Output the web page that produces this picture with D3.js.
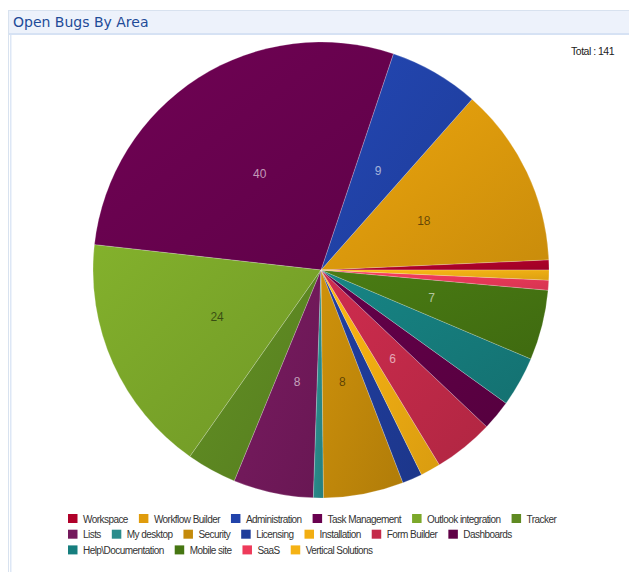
<!DOCTYPE html>
<html>
<head>
<meta charset="utf-8">
<script src="https://cdn.jsdelivr.net/npm/d3@7"></script>
<style>
  body { margin: 0; background: #fff; }
  svg { display: block; }
</style>
</head>
<body>
<svg id="chart"></svg>
<script>
// data, in legend order (the pie runs counter-clockwise from 3 o'clock)
const categories = [
  "Workspace", "Workflow Builder", "Administration", "Task Management",
  "Outlook integration", "Tracker", "Lists", "My desktop", "Security",
  "Licensing", "Installation", "Form Builder", "Dashboards",
  "Help\\Documentation", "Mobile site", "SaaS", "Vertical Solutions"
];
const bugCounts = [1, 18, 9, 40, 24, 5, 8, 1, 8, 2, 2, 6, 3, 5, 7, 1, 1];
const sliceColors = [
  "#b0012a", "#e09c0c", "#2143aa", "#6a0250",
  "#7ca82a", "#5f8a22", "#741a5c", "#2a8c8c", "#c48a0a",
  "#1f3c9a", "#f2ae12", "#c42a4a", "#600046",
  "#167e7e", "#467612", "#ee3a5a", "#f5b214"
];
const chartTitle = "Open Bugs By Area";
const totalLabel = "Total : " + d3.sum(bugCounts);
const minLabelValue = 6;

const width = 629;
const height = 572;
const cx = 321;
const cy = 270;
const radius = 228;

const svg = d3.select("#chart").attr("width", width).attr("height", height);
const defs = svg.append("defs");

// panel frame
svg.append("rect")
  .attr("x", 8.5).attr("y", 10.5)
  .attr("width", width).attr("height", height)
  .attr("fill", "#fff").attr("stroke", "#d8e2ef");
svg.append("rect")
  .attr("x", 9).attr("y", 11)
  .attr("width", width).attr("height", 22)
  .attr("fill", "#edf2fb");
svg.append("rect")
  .attr("x", 9).attr("y", 33)
  .attr("width", width).attr("height", 2)
  .attr("fill", "#d6e2f4");
svg.append("rect")
  .attr("x", 10).attr("y", 35)
  .attr("width", 1.5).attr("height", height)
  .attr("fill", "#dde7f6");

svg.append("text")
  .attr("x", 13).attr("y", 27)
  .attr("font-family", "DejaVu Sans")
  .attr("font-size", 14)
  .attr("fill", "#1e4b98")
  .text(chartTitle);

svg.append("text")
  .attr("x", 614).attr("y", 55)
  .attr("text-anchor", "end")
  .attr("font-family", "Liberation Sans")
  .attr("font-size", 10.5)
  .attr("letter-spacing", -0.5)
  .attr("fill", "#222")
  .text(totalLabel);

const data = categories.map((name, i) => ({ name, value: bugCounts[i], color: sliceColors[i] }));

// gradient per slice, lighter at top-left, darker toward bottom-right
data.forEach((d, i) => {
  const g = defs.append("linearGradient")
    .attr("id", "grad" + i)
    .attr("x1", 0).attr("y1", 0).attr("x2", 1).attr("y2", 1);
  g.append("stop").attr("offset", "0%").attr("stop-color", d3.color(d.color).brighter(0.15));
  g.append("stop").attr("offset", "100%").attr("stop-color", d3.color(d.color).darker(0.3));
});

const pie = d3.pie()
  .sort(null)
  .value((d) => d.value)
  .startAngle(Math.PI / 2)
  .endAngle(Math.PI / 2 - 2 * Math.PI);

const arc = d3.arc().innerRadius(0).outerRadius(radius);
const arcs = pie(data);

const pieG = svg.append("g").attr("transform", `translate(${cx},${cy})`);

pieG.selectAll("path")
  .data(arcs)
  .join("path")
  .attr("d", arc)
  .attr("fill", (d, i) => `url(#grad${i})`)
  .attr("stroke", "rgba(255,255,255,0.35)")
  .attr("stroke-width", 0.6);

const luminance = (c) => {
  const rgb = d3.rgb(c);
  const f = (v) => {
    v /= 255;
    return v <= 0.03928 ? v / 12.92 : Math.pow((v + 0.055) / 1.055, 2.4);
  };
  return 0.2126 * f(rgb.r) + 0.7152 * f(rgb.g) + 0.0722 * f(rgb.b);
};

pieG.selectAll("text")
  .data(arcs.filter((d) => d.data.value >= minLabelValue))
  .join("text")
  .attr("transform", (d) => `translate(${arc.centroid(d)})`)
  .attr("dy", "0.35em")
  .attr("text-anchor", "middle")
  .attr("font-family", "Liberation Sans")
  .attr("font-size", 12)
  .attr("fill", (d) => luminance(d.data.color) > 0.25 ? "rgba(0,0,0,0.55)" : "rgba(255,255,255,0.6)")
  .text((d) => d.data.value);

// legend, flowed into rows
const legend = svg.append("g");
const legendLeft = 68;
const legendRight = 585;
const rowHeight = 15.7;
let lx = legendLeft;
let ly = 514;

data.forEach((d) => {
  const item = legend.append("g");
  const label = item.append("text")
    .attr("x", 15).attr("y", 8.5)
    .attr("font-family", "Liberation Sans")
    .attr("font-size", 10)
    .attr("letter-spacing", -0.55)
    .attr("fill", "#333")
    .text(d.name);
  const w = 15 + label.node().getComputedTextLength();
  if (lx + w > legendRight) {
    lx = legendLeft;
    ly += rowHeight;
  }
  item.attr("transform", `translate(${lx},${ly})`);
  item.insert("rect", "text")
    .attr("width", 9.5).attr("height", 9)
    .attr("fill", d.color);
  lx += w + 11;
});
</script>
</body>
</html>
